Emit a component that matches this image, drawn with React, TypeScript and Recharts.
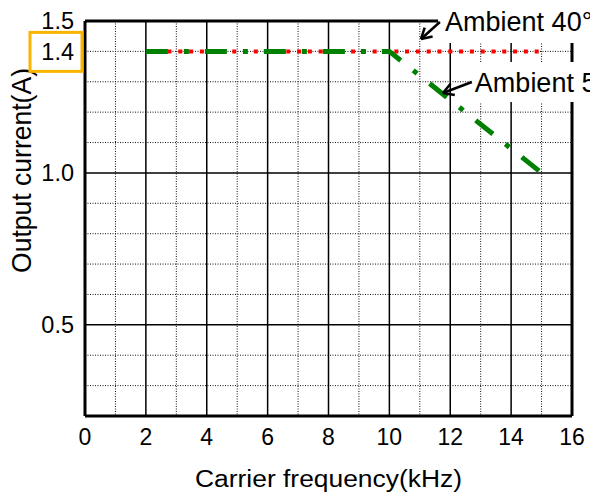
import { LineChart, Line, XAxis, YAxis, CartesianGrid, ReferenceLine, ReferenceArea } from "recharts";

const FONT = "'Liberation Sans', Arial, sans-serif";

// axis ticks
const xTicks = [0, 2, 4, 6, 8, 10, 12, 14, 16];
const yTicks = [0.5, 1.0, 1.4, 1.5];

// grid lines
const xMinor = [1, 3, 5, 7, 9, 11, 13, 15];
const yMinor = [0.3, 0.4, 0.6, 0.7, 0.8, 0.9, 1.1, 1.2, 1.3, 1.4];
const xMajor = [2, 4, 6, 8, 10, 12, 14];
const yMajor = [0.5, 1.0];

// series (kHz, A)
const ambient40 = [
  { x: 2, y: 1.4 },
  { x: 15, y: 1.4 },
];
const ambient50 = [
  { x: 2, y: 1.4 },
  { x: 10, y: 1.4 },
  { x: 15, y: 1.0 },
];

function XTick(props: any) {
  const { x, y, payload } = props;
  return (
    <text x={x} y={y} dy={16.5} textAnchor="middle" fontSize={23} fontFamily={FONT} fill="#000">
      {payload.value}
    </text>
  );
}

function YTick(props: any) {
  const { x, y, payload } = props;
  const v = payload.value;
  return (
    <g>
      {v === 1.4 && (
        <rect x={x - 44} y={y - 19} width={52} height={39} fill="none" stroke="#F7B500" strokeWidth={3} />
      )}
      <text x={x} y={y} dy="0.355em" textAnchor="end" fontSize={23.5} fontFamily={FONT} fill="#000">
        {v.toFixed(1)}
      </text>
    </g>
  );
}

function App() {
  return (
    <div style={{ position: "absolute", left: 0, top: 0, width: 590, height: 497, overflow: "hidden", background: "#fff" }}>
      <LineChart width={590} height={497} margin={{ top: 21, right: 18, bottom: 0, left: 0 }}>
        <CartesianGrid
          horizontalValues={yMinor}
          verticalValues={xMinor}
          stroke="#111"
          strokeDasharray="1 1.5"
          fill="none"
        />
        <CartesianGrid
          horizontalValues={yMajor}
          verticalValues={xMajor}
          stroke="#000"
          strokeWidth={1.5}
          fill="none"
        />
        <XAxis
          type="number"
          dataKey="x"
          domain={[0, 16]}
          ticks={xTicks}
          interval={0}
          height={81}
          tickSize={0}
          tickMargin={12}
          tickLine={false}
          axisLine={{ stroke: "#000", strokeWidth: 3 }}
          tick={<XTick />}
          label={{
            content: () => (
              <text
                x={328.5}
                y={487}
                textAnchor="middle"
                fontSize={23}
                fontFamily={FONT}
                fill="#000"
                textLength={267}
                lengthAdjust="spacingAndGlyphs"
              >
                Carrier frequency(kHz)
              </text>
            ),
          }}
        />
        <YAxis
          type="number"
          domain={[0.2, 1.5]}
          ticks={yTicks}
          interval={0}
          width={85}
          tickSize={0}
          tickMargin={11}
          tickLine={false}
          axisLine={{ stroke: "#000", strokeWidth: 3 }}
          tick={<YTick />}
          label={{
            content: () => (
              <text
                transform="translate(21,170.5) rotate(-90)"
                dy="0.355em"
                textAnchor="middle"
                fontSize={28}
                fontFamily={FONT}
                fill="#000"
                textLength={205}
                lengthAdjust="spacingAndGlyphs"
              >
                Output current(A)
              </text>
            ),
          }}
        />
        {/* frame: top and right, leaving gaps under the label boxes */}
        <ReferenceLine segment={[{ x: 0, y: 1.5 }, { x: 11.6, y: 1.5 }]} stroke="#000" strokeWidth={3} />
        <ReferenceLine segment={[{ x: 16, y: 0.2 }, { x: 16, y: 1.2334 }]} stroke="#000" strokeWidth={3} />
        <ReferenceLine segment={[{ x: 16, y: 1.365 }, { x: 16, y: 1.4276 }]} stroke="#000" strokeWidth={3} />

        <Line
          data={ambient40}
          dataKey="y"
          type="linear"
          stroke="#FF0000"
          strokeWidth={4}
          strokeDasharray="4 6.8"
          dot={false}
          activeDot={false}
          isAnimationActive={false}
        />
        <Line
          data={ambient50}
          dataKey="y"
          type="linear"
          stroke="#008000"
          strokeWidth={5}
          strokeDasharray="22 16 5 16"
          dot={false}
          activeDot={false}
          isAnimationActive={false}
        />

        {/* label boxes */}
        <ReferenceArea
          x1={11.6}
          x2={17}
          y1={1.4276}
          y2={1.569}
          fill="#fff"
          fillOpacity={1}
          stroke="none"
          ifOverflow="visible"
          label={{ value: "Ambient 40°C", position: "insideLeft", offset: 7, fontSize: 27, fill: "#000", fontFamily: FONT }}
        />
        <ReferenceArea
          x1={12.71}
          x2={17}
          y1={1.2334}
          y2={1.365}
          fill="#fff"
          fillOpacity={1}
          stroke="none"
          ifOverflow="visible"
          label={{ value: "Ambient 50°C", position: "insideLeft", offset: 3, fontSize: 27, fill: "#000", fontFamily: FONT }}
        />

        {/* arrows */}
        <ReferenceLine segment={[{ x: 11.66, y: 1.4967 }, { x: 11.04, y: 1.4408 }]} stroke="#000" strokeWidth={2.5} ifOverflow="visible" />
        <ReferenceLine segment={[{ x: 11.42, y: 1.449 }, { x: 11.04, y: 1.4408 }]} stroke="#000" strokeWidth={2.5} ifOverflow="visible" />
        <ReferenceLine segment={[{ x: 11.16, y: 1.4783 }, { x: 11.04, y: 1.4408 }]} stroke="#000" strokeWidth={2.5} ifOverflow="visible" />
        <ReferenceLine segment={[{ x: 12.71, y: 1.2992 }, { x: 11.76, y: 1.263 }]} stroke="#000" strokeWidth={2.5} ifOverflow="visible" />
        <ReferenceLine segment={[{ x: 12.15, y: 1.2567 }, { x: 11.76, y: 1.263 }]} stroke="#000" strokeWidth={2.5} ifOverflow="visible" />
        <ReferenceLine segment={[{ x: 12.01, y: 1.2936 }, { x: 11.76, y: 1.263 }]} stroke="#000" strokeWidth={2.5} ifOverflow="visible" />
      </LineChart>
    </div>
  );
}

export default App;
